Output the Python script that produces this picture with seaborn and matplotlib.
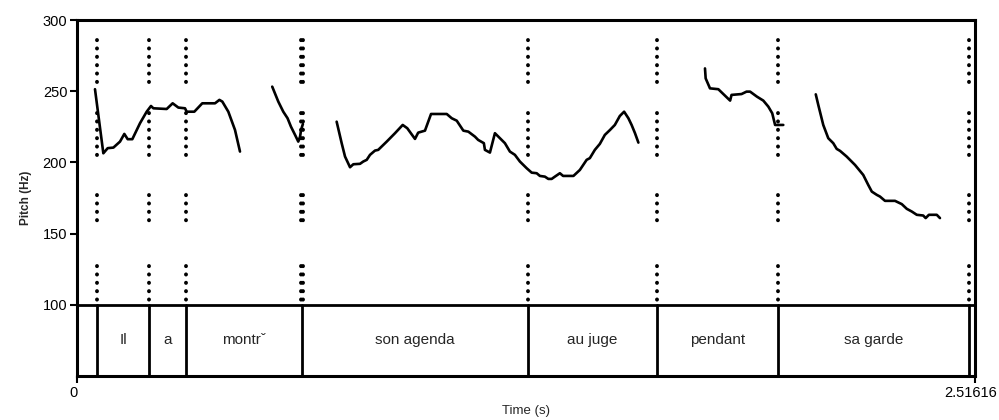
import matplotlib
matplotlib.use("Agg")
import matplotlib.pyplot as plt
import matplotlib.transforms as mtransforms
import seaborn as sns
import pandas as pd

# ---- data ----
seg1_t = [0.0504, 0.0738, 0.086, 0.102, 0.1205, 0.1326, 0.142, 0.155, 0.1765, 0.1952, 0.2073, 0.214,
          0.2513, 0.268, 0.284, 0.3026, 0.3074, 0.3287, 0.351, 0.3867, 0.399, 0.4072, 0.424, 0.4427, 0.4567]
seg1_f = [251.4, 206.4, 210, 210.4, 214.6, 220, 216.3, 216.3, 227.5, 235.6, 239.6, 238,
          237.5, 241.5, 238.5, 238, 235.6, 235.6, 241.5, 241.5, 243.9, 242.7, 235.6, 222.8, 207.6]
seg2_t = [0.547, 0.564, 0.578, 0.590, 0.5995, 0.611, 0.620, 0.625, 0.628, 0.633]
seg2_f = [253.2, 242.7, 235.6, 231, 225.1, 219.3, 214.6, 218.1, 223, 227]
seg3_t = [0.7275, 0.7416, 0.751, 0.765, 0.7743, 0.793, 0.802, 0.8118, 0.821, 0.835, 0.844, 0.8678,
          0.891, 0.9126, 0.9254, 0.947, 0.956, 0.975, 0.992, 1.036, 1.050, 1.064, 1.0825, 1.0965,
          1.115, 1.124, 1.140, 1.143, 1.157, 1.171, 1.185, 1.199, 1.213, 1.227, 1.241, 1.260, 1.274,
          1.288, 1.297, 1.311, 1.3206, 1.330, 1.339, 1.353, 1.362, 1.391, 1.409, 1.428, 1.437, 1.451,
          1.465, 1.479, 1.4935, 1.507, 1.521, 1.533, 1.545, 1.554, 1.5635, 1.573]
seg3_f = [228.6, 213.5, 204.1, 196.6, 198.7, 199, 200.6, 201.8, 205.3, 208.3, 208.8, 214.6,
          220.5, 226.3, 224, 216.5, 220.9, 222.3, 234, 234, 231, 229.3, 222.3, 221.6,
          218.1, 215.8, 213.5, 208.8, 206.9, 220.5, 217, 213.5, 207.6, 205.3, 200.6, 195.9, 192.8,
          192.4, 190.5, 190, 188.4, 188.4, 190, 192.4, 190.5, 190.5, 194.7, 201.8, 203, 208.8,
          213, 219.3, 222.8, 226.3, 232.6, 235.6, 231, 226.3, 220.5, 213.9]
seg4_t = [1.7596, 1.7615, 1.7736, 1.797, 1.811, 1.830, 1.834, 1.862, 1.876, 1.886, 1.905, 1.923,
          1.937, 1.948, 1.956, 1.963, 1.979]
seg4_f = [266, 259, 252, 251.4, 248, 243.4, 247.4, 248, 249.7, 249.7, 246.2, 243.4,
          239.2, 234.5, 226.3, 226.3, 226.3]
seg5_t = [2.070, 2.077, 2.091, 2.105, 2.119, 2.1286, 2.138, 2.1566, 2.180, 2.203, 2.217, 2.227,
          2.241, 2.250, 2.264, 2.292, 2.311, 2.325, 2.339, 2.353, 2.371, 2.378, 2.387, 2.409, 2.418]
seg5_f = [247.8, 240.4, 226.3, 217, 213.5, 209.5, 208.1, 204.1, 198.2, 191.2, 184.2, 179.5,
          177.2, 176, 173, 173, 170.7, 167.4, 165.5, 163.2, 162.7, 160.9, 163.2, 163.2, 160.9]

boundaries = [0.057, 0.201, 0.306, 0.630, 1.264, 1.625, 1.964, 2.500]
dotted_marks = [0.057, 0.201, 0.306, 0.6265, 0.632, 1.264, 1.625, 1.964, 2.500]
dot_bands = [(253, 286), (202, 235), (157.5, 177), (100, 127)]
intervals = [(0.057, 0.201, "Il"), (0.201, 0.306, "a"), (0.306, 0.630, "montrˇ"),
             (0.630, 1.264, "son agenda"), (1.264, 1.625, "au juge"),
             (1.625, 1.964, "pendant"), (1.964, 2.500, "sa garde")]
t_end = 2.51616

rows = []
for i, (ts, fs) in enumerate([(seg1_t, seg1_f), (seg2_t, seg2_f), (seg3_t, seg3_f),
                              (seg4_t, seg4_f), (seg5_t, seg5_f)]):
    for t, f in zip(ts, fs):
        rows.append({"seg": i, "t": t, "f": f})
df = pd.DataFrame(rows)

sns.set_theme(style="white")
plt.rcParams["font.family"] = ["Liberation Sans", "DejaVu Sans"]

fig = plt.figure(figsize=(9.99, 4.2), dpi=100)
ax = fig.add_axes([77 / 999, 1 - 376 / 420, (975 - 77) / 999, (376 - 20) / 420])

sns.lineplot(data=df, x="t", y="f", units="seg", estimator=None, color="black",
             linewidth=1.9, ax=ax, legend=False, sort=False)

# dotted boundary marks in pitch area
for b in dotted_marks:
    for lo, hi in dot_bands:
        ax.plot([b, b], [hi, lo], color="black", linewidth=2.8,
                linestyle=(0, (0.05, 2.1)), dash_capstyle="round")

# tier
ax.axhline(100, color="black", linewidth=2)
for b in boundaries:
    ax.plot([b, b], [50, 100], color="black", linewidth=2)
for a, b, lab in intervals:
    ax.text((a + b) / 2, 75, lab, ha="center", va="center", fontsize=11)

ax.set_xlim(0, t_end)
ax.set_ylim(50, 300)
ax.set_yticks([100, 150, 200, 250, 300])
ax.set_yticklabels(["100", "150", "200", "250", "300"])
ax.set_xticks([0, t_end])
ax.set_xticklabels(["0", "2.51616"])
ax.tick_params(axis="both", direction="out", length=5, width=1.5, labelsize=10.5,
               colors="black", pad=2, left=True, bottom=True)
shift = mtransforms.ScaledTranslation(-4 / 100, 0, fig.dpi_scale_trans)
for lab in ax.get_xticklabels():
    lab.set_transform(lab.get_transform() + shift)
for s in ax.spines.values():
    s.set_visible(True)
    s.set_color("black")
    s.set_linewidth(2.2)
ax.set_xlabel("Time (s)", fontsize=9.5, labelpad=4)
ax.set_ylabel("Pitch (Hz)", fontsize=8.5, fontweight="bold", labelpad=8)
ax.grid(False)

fig.savefig("out.png", dpi=100)
